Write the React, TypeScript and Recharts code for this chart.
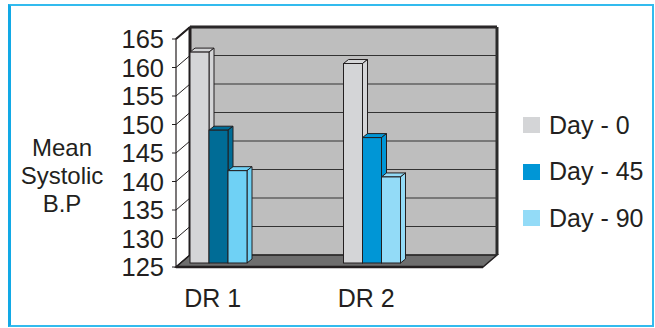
import React from 'react';
import { BarChart, Bar, XAxis, YAxis, CartesianGrid, ReferenceArea, Legend, Cell } from 'recharts';

const categories = ['DR 1', 'DR 2'];
const day0 = [162, 160];
const day45 = [148.3, 147];
const day90 = [141.2, 140.1];
const yTicks = [125, 130, 135, 140, 145, 150, 155, 160, 165];
const seriesNames = ['Day - 0', 'Day - 45', 'Day - 90'];
const legendColors = ['#d4d5d7', '#0096d6', '#93dbf7'];
const day0Colors = ['#d4d5d7', '#d4d5d7'];
const day45Colors = ['#006c96', '#0096d6'];
const day90Colors = ['#6fd1f5', '#93dbf7'];

const data = categories.map((c, i) => ({ name: c, d0: day0[i], d45: day45[i], d90: day90[i] }));

const FONT = '"Liberation Sans", Arial, Helvetica, sans-serif';
const INK = '#231f20';
const WDX = 14; // wall depth x
const WDY = 12; // wall depth y
const BAR_SHIFT = -34; // cluster placement within the 3D floor
const BDX = 5;
const BDY = 4;

const Bar3D = (props: any) => {
  const { x, y, width, height, fill } = props;
  if (height == null || width == null) return null;
  const fx = x + BAR_SHIFT;
  const fy = y - 4;
  const w = width;
  const h = height;
  return (
    <g>
      <polygon
        points={`${fx},${fy} ${fx + BDX},${fy - BDY} ${fx + w + BDX},${fy - BDY} ${fx + w},${fy}`}
        fill={fill}
        stroke={INK}
        strokeWidth={1}
      />
      <polygon
        points={`${fx + w},${fy} ${fx + w + BDX},${fy - BDY} ${fx + w + BDX},${fy + h - BDY} ${fx + w},${fy + h}`}
        fill={fill}
        stroke={INK}
        strokeWidth={1}
      />
      <rect x={fx} y={fy} width={w} height={h} fill={fill} stroke={INK} strokeWidth={1} />
    </g>
  );
};

const Walls = (props: any) => {
  const { x, y, width, height } = props;
  const w = width;
  const h = height;
  return (
    <g>
      <rect x={x + WDX} y={y - WDY} width={w} height={h} fill="#bebebe" />
      <polygon
        points={`${x},${y} ${x + WDX},${y - WDY} ${x + WDX},${y + h - WDY} ${x},${y + h}`}
        fill="#ffffff"
        stroke={INK}
        strokeWidth={1.2}
      />
      <polygon
        points={`${x},${y + h} ${x + WDX},${y + h - WDY} ${x + w + WDX},${y + h - WDY} ${x + w},${y + h}`}
        fill="#6e6e6e"
        stroke={INK}
        strokeWidth={1.5}
      />
      <line x1={x + WDX} y1={y - WDY} x2={x + WDX} y2={y + h - WDY} stroke={INK} strokeWidth={3} />
      <line x1={x + WDX} y1={y - WDY} x2={x + w + WDX} y2={y - WDY} stroke={INK} strokeWidth={3} />
      <line x1={x + w + WDX} y1={y - WDY} x2={x + w + WDX} y2={y + h - WDY} stroke="#2b2b2b" strokeWidth={3} />
      <line x1={x} y1={y} x2={x + WDX} y2={y - WDY} stroke={INK} strokeWidth={2} />
      <line x1={x} y1={y + h} x2={x + w} y2={y + h} stroke={INK} strokeWidth={2.5} />
    </g>
  );
};

const GridLine = (p: any) => (
  <line
    key={p.key}
    x1={p.x1 + WDX}
    y1={p.y1 - WDY}
    x2={p.x2 + WDX}
    y2={p.y2 - WDY}
    stroke="#333333"
    strokeWidth={1.2}
  />
);

const YTick = (props: any) => {
  const { x, y, payload } = props;
  return (
    <g>
      <line x1={x - 4} y1={y} x2={x} y2={y} stroke={INK} strokeWidth={1} />
      <line x1={x} y1={y} x2={x + WDX} y2={y - WDY} stroke={INK} strokeWidth={1} />
      <text x={x - 12} y={y} dy={9} textAnchor="end" fontSize={25.5} fontFamily={FONT} fill={INK}>
        {payload.value}
      </text>
    </g>
  );
};

const XTick = (props: any) => {
  const { x, y, payload } = props;
  return (
    <text x={x - 40} y={y + 40} textAnchor="middle" fontSize={25} fontFamily={FONT} fill={INK}>
      {payload.value}
    </text>
  );
};

const LegendContent = (props: any) => {
  const { payload } = props;
  return (
    <div style={{ fontFamily: FONT }}>
      {(payload || []).map((entry: any, i: number) => (
        <div key={i} style={{ display: 'flex', alignItems: 'center', height: 46.5 }}>
          <span style={{ display: 'inline-block', width: 17, height: 16, background: entry.color }} />
          <span style={{ marginLeft: 9, fontSize: 25, color: INK, lineHeight: '25px' }}>{entry.value}</span>
        </div>
      ))}
    </div>
  );
};

export default function App() {
  return (
    <div style={{ position: 'absolute', left: 0, top: 0, width: 655, height: 328, background: '#ffffff' }}>
      <div
        style={{
          position: 'absolute',
          left: 8,
          top: 4,
          width: 646,
          height: 323,
          boxSizing: 'border-box',
          borderTop: '2px solid #33bbee',
          borderRight: '2px solid #33bbee',
          borderBottom: '2px solid #33bbee',
          borderLeft: '3px solid #12a9e6',
        }}
      />
      <div
        style={{
          position: 'absolute',
          left: 0,
          top: 134,
          width: 124,
          textAlign: 'center',
          fontFamily: FONT,
          fontSize: 24,
          lineHeight: '28px',
          color: INK,
        }}
      >
        <div>Mean</div>
        <div>Systolic</div>
        <div>B.P</div>
      </div>
      <div style={{ position: 'absolute', left: 0, top: 0 }}>
        <BarChart
          width={655}
          height={328}
          data={data}
          margin={{ top: 39, right: 172, bottom: 21, left: 0 }}
          barGap={0}
          barSize={19}
        >
          <ReferenceArea y1={125} y2={165} shape={<Walls />} zIndex={-300} ifOverflow="visible" />
          <CartesianGrid vertical={false} horizontal={GridLine as any} zIndex={-50} />
          <XAxis
            dataKey="name"
            height={40}
            axisLine={false}
            tickLine={false}
            tickSize={0}
            tickMargin={0}
            tick={<XTick />}
            interval={0}
          />
          <YAxis
            width={176}
            domain={[125, 165]}
            ticks={yTicks}
            interval={0}
            axisLine={false}
            tickLine={false}
            tickSize={0}
            tickMargin={0}
            tick={<YTick />}
          />
          <Legend
            layout="vertical"
            align="center"
            verticalAlign="middle"
            wrapperStyle={{ left: 523, top: 102, width: 130 }}
            content={<LegendContent />}
          />
          <Bar dataKey="d0" name={seriesNames[0]} fill={legendColors[0]} shape={<Bar3D />} isAnimationActive={false}>
            {day0Colors.map((c, i) => (
              <Cell key={i} fill={c} />
            ))}
          </Bar>
          <Bar dataKey="d45" name={seriesNames[1]} fill={legendColors[1]} shape={<Bar3D />} isAnimationActive={false}>
            {day45Colors.map((c, i) => (
              <Cell key={i} fill={c} />
            ))}
          </Bar>
          <Bar dataKey="d90" name={seriesNames[2]} fill={legendColors[2]} shape={<Bar3D />} isAnimationActive={false}>
            {day90Colors.map((c, i) => (
              <Cell key={i} fill={c} />
            ))}
          </Bar>
        </BarChart>
      </div>
    </div>
  );
}
